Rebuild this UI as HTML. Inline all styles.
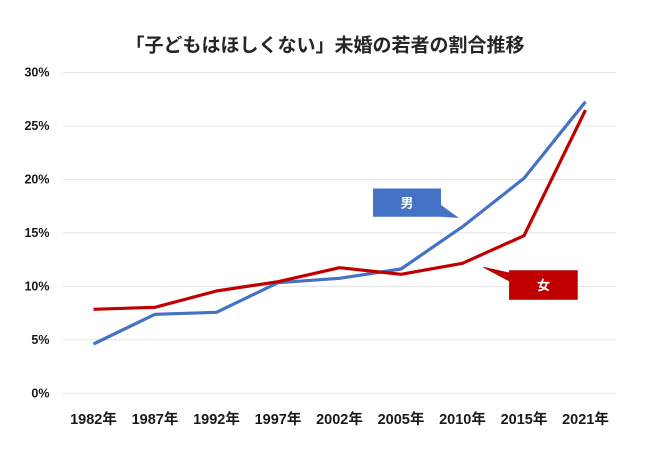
<!DOCTYPE html>
<html><head><meta charset="utf-8"><style>
html,body{margin:0;padding:0;background:#fff;}
svg{display:block;}
text{font-family:"Liberation Sans","Noto Sans CJK JP",sans-serif;font-weight:bold;}
</style></head><body>
<svg width="650" height="450" viewBox="0 0 650 450" xmlns="http://www.w3.org/2000/svg">
<rect width="650" height="450" fill="#fff"/>
<text x="325" y="51.5" text-anchor="middle" font-size="19" fill="#262626">「子どもはほしくない」未婚の若者の割合推移</text>
<g stroke="#e3e3e3" stroke-width="1">
<line x1="63" x2="616" y1="393.3" y2="393.3"/>
<line x1="63" x2="616" y1="339.8" y2="339.8"/>
<line x1="63" x2="616" y1="286.4" y2="286.4"/>
<line x1="63" x2="616" y1="232.9" y2="232.9"/>
<line x1="63" x2="616" y1="179.4" y2="179.4"/>
<line x1="63" x2="616" y1="126" y2="126"/>
<line x1="63" x2="616" y1="72.5" y2="72.5"/>
</g>
<g font-size="12.5" fill="#1a1a1a" text-anchor="end">
<text x="49.5" y="397.5">0%</text>
<text x="49.5" y="344">5%</text>
<text x="49.5" y="290.6">10%</text>
<text x="49.5" y="237.1">15%</text>
<text x="49.5" y="183.6">20%</text>
<text x="49.5" y="130.2">25%</text>
<text x="49.5" y="76.7">30%</text>
</g>
<g font-size="14.5" fill="#1a1a1a" text-anchor="middle">
<text x="93.5" y="424">1982年</text>
<text x="155" y="424">1987年</text>
<text x="216.5" y="424">1992年</text>
<text x="278" y="424">1997年</text>
<text x="339.5" y="424">2002年</text>
<text x="401" y="424">2005年</text>
<text x="462.5" y="424">2010年</text>
<text x="524" y="424">2015年</text>
<text x="585.5" y="424">2021年</text>
</g>
<polyline fill="none" stroke="#4472C4" stroke-width="3.2" stroke-linejoin="round" points="93.5,344 155,314.3 216.5,312.3 278,282.7 339.5,278.3 401,269 462.5,226.7 524,178.3 585.5,101.7"/>
<polyline fill="none" stroke="#C00000" stroke-width="3.2" stroke-linejoin="round" points="93.5,309.3 155,307.3 216.5,291 278,281.7 339.5,267.7 401,274.3 462.5,263.3 524,235.7 585.5,110"/>
<polygon fill="#4472C4" points="373,188.5 441,188.5 441,205 459,218 441,216.7 373,216.7"/>
<text x="407" y="207.5" text-anchor="middle" font-size="13" fill="#fff">男</text>
<polygon fill="#C00000" stroke="#a80000" stroke-width="0.8" points="509.5,270.7 577.3,270.7 577.3,299.3 509.5,299.3 509.5,281 483.5,267.3 509.5,273"/>
<text x="543.5" y="290" text-anchor="middle" font-size="13" fill="#fff">女</text>
</svg>
</body></html>
